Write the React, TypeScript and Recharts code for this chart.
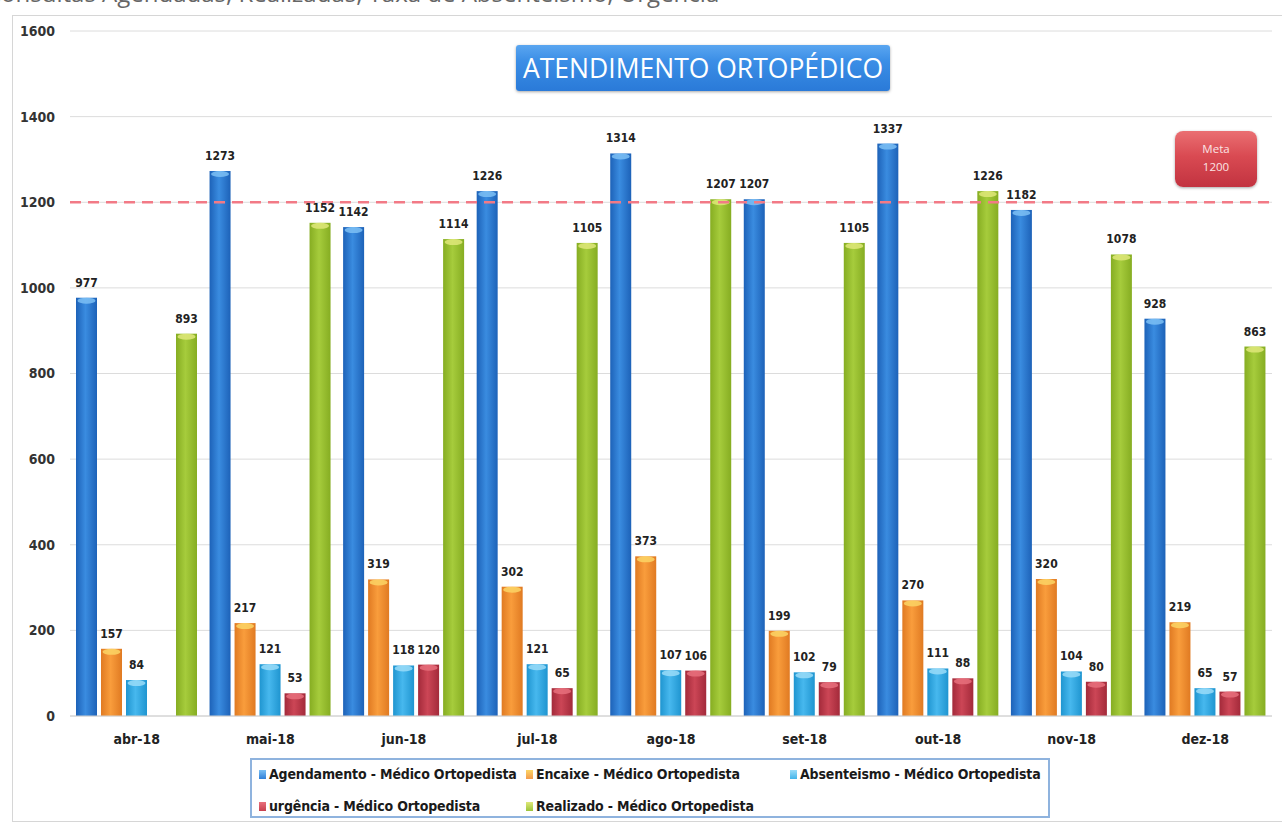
import React from "react";
import { BarChart, Bar, XAxis, YAxis, CartesianGrid, ReferenceLine, LabelList, Legend } from "recharts";

const months = ["abr-18", "mai-18", "jun-18", "jul-18", "ago-18", "set-18", "out-18", "nov-18", "dez-18"];
const agendamento = [977, 1273, 1142, 1226, 1314, 1207, 1337, 1182, 928];
const encaixe = [157, 217, 319, 302, 373, 199, 270, 320, 219];
const absenteismo = [84, 121, 118, 121, 107, 102, 111, 104, 65];
const urgencia: (number | null)[] = [null, 53, 120, 65, 106, 79, 88, 80, 57];
const realizado = [893, 1152, 1114, 1105, 1207, 1105, 1226, 1078, 863];
const yTicks = [0, 200, 400, 600, 800, 1000, 1200, 1400, 1600];
const meta = 1200;

const seriesDefs = [
  { key: "agendamento", name: "Agendamento - Médico Ortopedista", edge: "#1d62b8", mid: "#3a8ce0", top: "#7cc0f4", icon: "#2f7fd8" },
  { key: "encaixe", name: "Encaixe - Médico Ortopedista", edge: "#e07a22", mid: "#f99d3c", top: "#fcd565", icon: "#f39a4c" },
  { key: "absenteismo", name: "Absenteismo - Médico Ortopedista", edge: "#1f95d0", mid: "#47b8ee", top: "#9adcf8", icon: "#42b4ea" },
  { key: "urgencia", name: "urgência - Médico Ortopedista", edge: "#a32a3a", mid: "#cc4656", top: "#e8707c", icon: "#c8404e" },
  { key: "realizado", name: "Realizado - Médico Ortopedista", edge: "#86ad22", mid: "#a6cc3c", top: "#dfe87a", icon: "#9cc43a" },
];

const data = months.map((m, i) => ({
  month: m,
  agendamento: agendamento[i],
  encaixe: encaixe[i],
  absenteismo: absenteismo[i],
  urgencia: urgencia[i],
  realizado: realizado[i],
}));

const condensed = "'DejaVu Sans Condensed', 'Liberation Sans Narrow', 'DejaVu Sans', sans-serif";

const makeShape = (key: string, top: string) => (props: any) => {
  const { x, y, width, height } = props;
  if (!height || height <= 0) return <g />;
  return (
    <g>
      <rect x={x} y={y} width={width} height={height} fill={`url(#grad-${key})`} />
      <ellipse cx={x + width / 2} cy={y + 3} rx={width / 2 - 1.5} ry={3} fill={top} opacity={0.85} />
    </g>
  );
};

const renderLabel = (props: any) => {
  const { x, y, width, value } = props;
  if (value === null || value === undefined) return null;
  return (
    <text
      x={x + width / 2}
      y={y - 11}
      textAnchor="middle"
      fontFamily={condensed}
      fontWeight="bold"
      fontSize={12}
      fill="#222"
    >
      {value}
    </text>
  );
};

const LegendContent = () => {
  const positions = [
    { left: 7, top: 6 },
    { left: 274, top: 6 },
    { left: 538, top: 6 },
    { left: 7, top: 38 },
    { left: 274, top: 38 },
  ];
  return (
    <div style={{ position: "relative", width: 796, height: 56 }}>
      {seriesDefs.map((s, i) => (
        <div
          key={s.key}
          style={{
            position: "absolute",
            left: positions[i].left,
            top: positions[i].top,
            display: "flex",
            alignItems: "center",
            fontFamily: condensed,
            fontWeight: "bold",
            fontSize: 14,
            lineHeight: "16px",
            color: "#1a1a1a",
            whiteSpace: "nowrap",
            letterSpacing: -0.15,
          }}
        >
          <span
            style={{
              display: "inline-block",
              width: 7,
              height: 9,
              marginRight: 3,
              background: `linear-gradient(to bottom, ${s.top}, ${s.icon})`,
            }}
          />
          {s.name}
        </div>
      ))}
    </div>
  );
};

export default function App() {
  return (
    <div style={{ position: "absolute", left: 0, top: 0, width: 1282, height: 822, overflow: "hidden", background: "#fff" }}>
      <div
        style={{
          position: "absolute",
          left: -14,
          top: -19,
          fontFamily: "'Open Sans', sans-serif",
          fontSize: 24,
          lineHeight: "24px",
          color: "#666",
          whiteSpace: "nowrap",
        }}
      >
        Consultas Agendadas, Realizadas, Taxa de Absenteísmo, Urgência
      </div>
      <div
        style={{
          position: "absolute",
          left: 12,
          top: 15,
          width: 1300,
          height: 805,
          border: "1px solid #d6d6d6",
        }}
      />
      <div style={{ position: "absolute", left: 0, top: 0 }}>
        <BarChart
          width={1282}
          height={822}
          data={data}
          margin={{ top: 31, right: 10, bottom: 76, left: 0 }}
          barSize={21}
          barGap={4}
        >
          <defs>
            {seriesDefs.map((s) => (
              <linearGradient key={s.key} id={`grad-${s.key}`} x1="0" y1="0" x2="1" y2="0">
                <stop offset="0%" stopColor={s.edge} />
                <stop offset="45%" stopColor={s.mid} />
                <stop offset="100%" stopColor={s.edge} />
              </linearGradient>
            ))}
          </defs>
          <CartesianGrid vertical={false} stroke="#dcdcdc" />
          <XAxis
            dataKey="month"
            axisLine={{ stroke: "#d0d0d0" }}
            tickLine={false}
            tickSize={6}
            tickMargin={12}
            height={30}
            tick={{ fontFamily: condensed, fontWeight: "bold", fontSize: 14, fill: "#222" }}
          />
          <YAxis
            width={70}
            domain={[0, 1600]}
            ticks={yTicks}
            axisLine={false}
            tickLine={false}
            tickSize={6}
            tickMargin={9}
            tick={{ fontFamily: condensed, fontWeight: "bold", fontSize: 14, fill: "#333" }}
          />
          <ReferenceLine y={meta} stroke="#f27a86" strokeWidth={2.5} strokeDasharray="11 7" />
          {seriesDefs.map((s) => (
            <Bar
              key={s.key}
              dataKey={s.key}
              name={s.name}
              fill={s.icon}
              isAnimationActive={false}
              shape={makeShape(s.key, s.top)}
            >
              <LabelList dataKey={s.key} content={renderLabel} />
            </Bar>
          ))}
          <Legend
            verticalAlign="middle"
            layout="horizontal"
            content={<LegendContent />}
            wrapperStyle={{
              position: "absolute",
              left: 250,
              top: 758,
              width: 800,
              height: 60,
              border: "2px solid #8fb3de",
              boxSizing: "border-box",
              background: "#fff",
            }}
          />
        </BarChart>
      </div>
      <div
        style={{
          position: "absolute",
          left: 516,
          top: 45,
          width: 374,
          height: 46,
          borderRadius: 3,
          background: "linear-gradient(to bottom, #5aa6f0 0%, #3b8ee6 35%, #2a7ad8 100%)",
          boxShadow: "0 1px 3px rgba(0,0,0,0.35)",
          color: "#fff",
          fontFamily: "'Open Sans', sans-serif",
          fontSize: 26.5,
          lineHeight: "46px",
          textAlign: "center",
          whiteSpace: "nowrap",
        }}
      >
        ATENDIMENTO ORTOPÉDICO
      </div>
      <div
        style={{
          position: "absolute",
          left: 1175,
          top: 131,
          width: 82,
          height: 56,
          borderRadius: 8,
          background: "linear-gradient(to bottom, #ea6f72 0%, #d94a52 45%, #c23340 100%)",
          boxShadow: "0 1px 3px rgba(0,0,0,0.35)",
          color: "#fbe4e4",
          fontFamily: "'Open Sans', sans-serif",
          fontSize: 11.5,
          lineHeight: "18px",
          textAlign: "center",
          paddingTop: 9,
          boxSizing: "border-box",
        }}
      >
        <div>Meta</div>
        <div>1200</div>
      </div>
    </div>
  );
}
